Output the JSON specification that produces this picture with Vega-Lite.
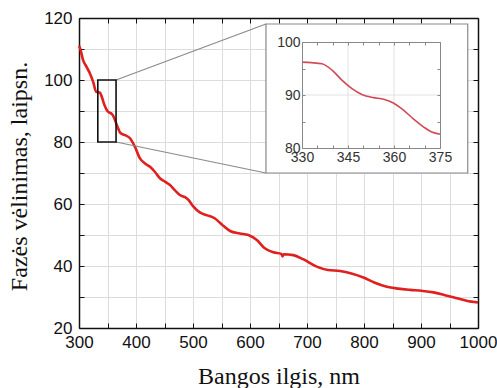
{
  "$schema": "https://vega.github.io/schema/vega-lite/v6.json",
  "width": 399,
  "height": 310,
  "autosize": {"type": "none"},
  "padding": {"left": 79, "top": 18, "right": 19, "bottom": 60},
  "background": "white",
  "config": {
    "view": {"stroke": null},
    "axis": {
      "labelFont": "Liberation Sans",
      "titleFont": "Liberation Serif",
      "titleFontWeight": "normal"
    }
  },
  "datasets": {
    "spectrum": [
      {"x": 300, "y": 111.0}, {"x": 302, "y": 110.2}, {"x": 307, "y": 106.5}, {"x": 313, "y": 104.3},
      {"x": 319, "y": 102.2}, {"x": 325, "y": 99.3}, {"x": 330, "y": 96.2}, {"x": 333, "y": 96.1},
      {"x": 336.5, "y": 95.9}, {"x": 339.8, "y": 94.7}, {"x": 343, "y": 92.8}, {"x": 346.3, "y": 91.2},
      {"x": 349.5, "y": 90.1}, {"x": 353.3, "y": 89.5}, {"x": 356.6, "y": 89.2}, {"x": 359.8, "y": 88.5},
      {"x": 363, "y": 87.2}, {"x": 366.3, "y": 85.5}, {"x": 369.6, "y": 84.0}, {"x": 372.3, "y": 83.0},
      {"x": 375, "y": 82.6}, {"x": 381, "y": 82.2}, {"x": 389.5, "y": 81.2}, {"x": 398, "y": 78.5},
      {"x": 407, "y": 74.7}, {"x": 415.8, "y": 73.1}, {"x": 424.6, "y": 72.0}, {"x": 433, "y": 70.4},
      {"x": 442, "y": 68.3}, {"x": 451, "y": 67.2}, {"x": 459.6, "y": 66.1}, {"x": 468, "y": 64.5},
      {"x": 477, "y": 62.9}, {"x": 486, "y": 62.2}, {"x": 492, "y": 61.3}, {"x": 500, "y": 59.3},
      {"x": 512, "y": 57.3}, {"x": 524, "y": 56.4}, {"x": 538, "y": 55.4}, {"x": 550, "y": 53.5},
      {"x": 565, "y": 51.3}, {"x": 582, "y": 50.5}, {"x": 597, "y": 50.0}, {"x": 612, "y": 48.4},
      {"x": 626, "y": 45.7}, {"x": 641, "y": 44.4}, {"x": 655, "y": 43.9}, {"x": 657, "y": 43.1},
      {"x": 659, "y": 43.8}, {"x": 676, "y": 43.5}, {"x": 693, "y": 42.2}, {"x": 717, "y": 39.8},
      {"x": 737, "y": 38.7}, {"x": 758, "y": 38.4}, {"x": 778, "y": 37.6}, {"x": 799, "y": 36.3},
      {"x": 819, "y": 34.6}, {"x": 840, "y": 33.3}, {"x": 860, "y": 32.7}, {"x": 881, "y": 32.3},
      {"x": 901, "y": 32.0}, {"x": 922, "y": 31.5}, {"x": 942, "y": 30.6}, {"x": 963, "y": 29.6},
      {"x": 980, "y": 28.8}, {"x": 1000, "y": 28.2}
    ],
    "zoomRegion": [{"x1": 333, "x2": 365, "y1": 80, "y2": 100}],
    "insetBox": [{"x1": 628, "x2": 982, "y1": 70, "y2": 118.06}],
    "links": [
      {"x1": 365, "y1": 100, "x2": 628, "y2": 118.06},
      {"x1": 365, "y1": 80, "x2": 628, "y2": 70}
    ],
    "insetXGrid": [{"x": 345}, {"x": 360}],
    "insetYGrid": [{"y": 90}]
  },
  "layer": [
    {
      "layer": [
        {
          "data": {"name": "spectrum"},
          "mark": {"type": "line", "color": "#e01f1f", "strokeWidth": 2.6, "interpolate": "monotone"},
          "encoding": {
            "x": {
              "field": "x", "type": "quantitative",
              "scale": {"domain": [300, 1000], "nice": false, "zero": false},
              "axis": {
                "orient": "bottom",
                "title": "Bangos ilgis, nm",
                "titleFontSize": 24, "titleColor": "#111",
                "titleX": 199.5, "titleY": 55, "titleBaseline": "alphabetic", "titleAlign": "center",
                "values": [300, 350, 400, 450, 500, 550, 600, 650, 700, 750, 800, 850, 900, 950, 1000],
                "format": "d",
                "labelExpr": "datum.value % 100 === 0 ? datum.label : ''",
                "labelFontSize": 17, "labelColor": "#111", "labelPadding": 11,
                "labelFlush": false, "labelOverlap": false,
                "tickSize": -5, "tickColor": "#111", "tickWidth": 1,
                "domainColor": "#111", "domainWidth": 1.5,
                "grid": true, "gridColor": "#dcdcdc", "gridWidth": 1
              }
            },
            "y": {
              "field": "y", "type": "quantitative",
              "scale": {"domain": [20, 120], "nice": false, "zero": false},
              "axis": {
                "orient": "left",
                "title": "Fazės vėlinimas, laipsn.",
                "titleFontSize": 24, "titleColor": "#111",
                "titleX": -60, "titleY": 158, "titleAngle": -90, "titleAlign": "center", "titleBaseline": "middle",
                "values": [20, 30, 40, 50, 60, 70, 80, 90, 100, 110, 120],
                "labelExpr": "datum.value % 20 === 0 ? datum.label : ''",
                "labelFontSize": 17, "labelColor": "#111", "labelPadding": 12,
                "labelFlush": false, "labelOverlap": false,
                "tickSize": -5, "tickColor": "#111", "tickWidth": 1,
                "domainColor": "#111", "domainWidth": 1.5,
                "grid": true, "gridColor": "#dcdcdc", "gridWidth": 1
              }
            }
          }
        },
        {
          "data": {"name": "spectrum"},
          "mark": {"type": "line", "opacity": 0},
          "encoding": {
            "x": {
              "field": "x", "type": "quantitative",
              "scale": {"domain": [300, 1000], "nice": false, "zero": false},
              "axis": {
                "orient": "top", "title": null, "labels": false, "grid": false,
                "values": [300, 350, 400, 450, 500, 550, 600, 650, 700, 750, 800, 850, 900, 950, 1000],
                "tickSize": -5, "tickColor": "#111", "domainColor": "#111", "domainWidth": 1.5
              }
            },
            "y": {
              "field": "y", "type": "quantitative",
              "scale": {"domain": [20, 120], "nice": false, "zero": false},
              "axis": {
                "orient": "right", "title": null, "labels": false, "grid": false,
                "values": [20, 30, 40, 50, 60, 70, 80, 90, 100, 110, 120],
                "tickSize": -5, "tickColor": "#111", "domainColor": "#111", "domainWidth": 1.5
              }
            }
          }
        },
        {
          "data": {"name": "insetBox"},
          "mark": {"type": "rect", "fill": "white", "stroke": "#8a8a8a", "strokeWidth": 1.2},
          "encoding": {
            "x": {"field": "x1", "type": "quantitative", "axis": null},
            "x2": {"field": "x2"},
            "y": {"field": "y1", "type": "quantitative", "axis": null},
            "y2": {"field": "y2"}
          }
        },
        {
          "data": {"name": "links"},
          "mark": {"type": "rule", "color": "#8a8a8a", "strokeWidth": 1.2},
          "encoding": {
            "x": {"field": "x1", "type": "quantitative", "axis": null},
            "x2": {"field": "x2"},
            "y": {"field": "y1", "type": "quantitative", "axis": null},
            "y2": {"field": "y2"}
          }
        },
        {
          "data": {"name": "zoomRegion"},
          "mark": {"type": "rect", "fill": null, "stroke": "#111", "strokeWidth": 1.6},
          "encoding": {
            "x": {"field": "x1", "type": "quantitative", "axis": null},
            "x2": {"field": "x2"},
            "y": {"field": "y1", "type": "quantitative", "axis": null},
            "y2": {"field": "y2"}
          }
        }
      ],
      "resolve": {"axis": {"x": "independent", "y": "independent"}}
    },
    {
      "layer": [
        {
          "data": {"name": "insetXGrid"},
          "mark": {"type": "rule", "color": "#e2e2e2", "strokeWidth": 1},
          "encoding": {
            "x": {"field": "x", "type": "quantitative", "axis": null,
              "scale": {"domain": [330, 375], "range": [223, 361], "nice": false, "zero": false}},
            "y": {"datum": 80, "type": "quantitative", "axis": null,
              "scale": {"domain": [80, 100], "range": [130, 24], "nice": false, "zero": false}},
            "y2": {"datum": 100}
          }
        },
        {
          "data": {"name": "insetYGrid"},
          "mark": {"type": "rule", "color": "#e2e2e2", "strokeWidth": 1},
          "encoding": {
            "y": {"field": "y", "type": "quantitative", "axis": null},
            "x": {"datum": 330, "type": "quantitative", "axis": null},
            "x2": {"datum": 375}
          }
        },
        {
          "data": {"name": "spectrum"},
          "transform": [{"filter": "datum.x >= 330 && datum.x <= 375"}],
          "mark": {"type": "line", "color": "#d24a55", "strokeWidth": 1.6, "interpolate": "monotone"},
          "encoding": {
            "x": {
              "field": "x", "type": "quantitative",
              "scale": {"domain": [330, 375], "range": [223, 361], "nice": false, "zero": false},
              "axis": {
                "orient": "bottom", "offset": -180, "title": null, "zindex": 3,
                "values": [330, 335, 340, 345, 350, 355, 360, 365, 370, 375],
                "labelExpr": "(datum.value - 330) % 15 === 0 ? datum.label : ''",
                "labelFontSize": 14, "labelColor": "#333", "labelPadding": 5,
                "labelFlush": false, "labelOverlap": false,
                "tickSize": -3, "tickColor": "#888", "domainColor": "#888", "domainWidth": 1, "grid": false
              }
            },
            "y": {
              "field": "y", "type": "quantitative",
              "scale": {"domain": [80, 100], "range": [130, 24], "nice": false, "zero": false},
              "axis": {
                "orient": "left", "offset": -223, "title": null, "zindex": 3,
                "values": [80, 85, 90, 95, 100],
                "labelExpr": "datum.value % 10 === 0 ? datum.label : ''",
                "labelFontSize": 14, "labelColor": "#333", "labelPadding": 5,
                "labelFlush": false, "labelOverlap": false,
                "tickSize": -3, "tickColor": "#888", "domainColor": "#888", "domainWidth": 1, "grid": false
              }
            }
          }
        },
        {
          "data": {"name": "spectrum"},
          "transform": [{"filter": "datum.x >= 330 && datum.x <= 375"}],
          "mark": {"type": "line", "opacity": 0},
          "encoding": {
            "x": {
              "field": "x", "type": "quantitative",
              "axis": {
                "orient": "top", "offset": -24, "title": null, "labels": false, "zindex": 3,
                "values": [330, 335, 340, 345, 350, 355, 360, 365, 370, 375],
                "tickSize": -3, "tickColor": "#888", "domainColor": "#888", "domainWidth": 1, "grid": false
              }
            },
            "y": {
              "field": "y", "type": "quantitative",
              "axis": {
                "orient": "right", "offset": -38, "title": null, "labels": false, "zindex": 3,
                "values": [80, 85, 90, 95, 100],
                "tickSize": -3, "tickColor": "#888", "domainColor": "#888", "domainWidth": 1, "grid": false
              }
            }
          }
        }
      ],
      "resolve": {"axis": {"x": "independent", "y": "independent"}}
    }
  ],
  "resolve": {
    "scale": {"x": "independent", "y": "independent"},
    "axis": {"x": "independent", "y": "independent"}
  }
}
